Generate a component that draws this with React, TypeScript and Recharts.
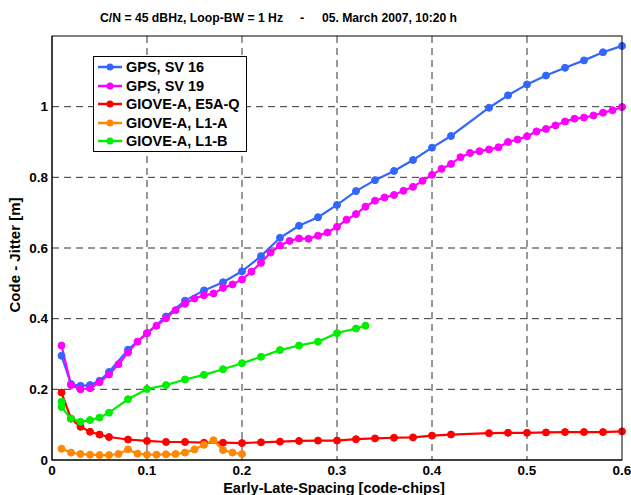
import React from 'react';
import { LineChart, Line, XAxis, YAxis, CartesianGrid, Legend } from 'recharts';

// x positions (code-chips) and jitter values [m]
const sv16X = [0.01, 0.02, 0.03, 0.04, 0.05, 0.06, 0.08, 0.1, 0.12, 0.14, 0.16, 0.18, 0.2, 0.22, 0.24, 0.26, 0.28, 0.3, 0.32, 0.34, 0.36, 0.38, 0.4, 0.42, 0.46, 0.48, 0.5, 0.52, 0.54, 0.56, 0.58, 0.6];
const sv16Y = [0.295, 0.215, 0.21, 0.212, 0.224, 0.249, 0.312, 0.359, 0.406, 0.451, 0.48, 0.503, 0.534, 0.577, 0.629, 0.663, 0.687, 0.722, 0.761, 0.792, 0.818, 0.849, 0.884, 0.917, 0.997, 1.032, 1.063, 1.088, 1.11, 1.131, 1.154, 1.172];

const sv19X = [0.01, 0.02, 0.03, 0.04, 0.05, 0.06, 0.07, 0.08, 0.09, 0.1, 0.11, 0.12, 0.13, 0.14, 0.15, 0.16, 0.17, 0.18, 0.19, 0.2, 0.21, 0.22, 0.23, 0.24, 0.25, 0.26, 0.27, 0.28, 0.29, 0.3, 0.31, 0.32, 0.33, 0.34, 0.35, 0.36, 0.37, 0.38, 0.39, 0.4, 0.41, 0.42, 0.43, 0.44, 0.45, 0.46, 0.47, 0.48, 0.49, 0.5, 0.51, 0.52, 0.53, 0.54, 0.55, 0.56, 0.57, 0.58, 0.59, 0.6];
const sv19Y = [0.324, 0.212, 0.2, 0.203, 0.22, 0.242, 0.271, 0.304, 0.335, 0.359, 0.38, 0.401, 0.424, 0.442, 0.457, 0.466, 0.471, 0.487, 0.497, 0.511, 0.533, 0.558, 0.587, 0.607, 0.62, 0.627, 0.626, 0.635, 0.644, 0.66, 0.68, 0.696, 0.717, 0.734, 0.743, 0.75, 0.762, 0.773, 0.79, 0.807, 0.824, 0.838, 0.857, 0.869, 0.874, 0.879, 0.885, 0.9, 0.907, 0.916, 0.93, 0.937, 0.947, 0.958, 0.966, 0.969, 0.975, 0.983, 0.99, 0.999];

const e5aX = [0.01, 0.02, 0.03, 0.04, 0.05, 0.06, 0.08, 0.1, 0.12, 0.14, 0.16, 0.18, 0.2, 0.22, 0.24, 0.26, 0.28, 0.3, 0.32, 0.34, 0.36, 0.38, 0.4, 0.42, 0.46, 0.48, 0.5, 0.52, 0.54, 0.56, 0.58, 0.6];
const e5aY = [0.191, 0.117, 0.094, 0.08, 0.072, 0.065, 0.058, 0.054, 0.051, 0.051, 0.049, 0.049, 0.048, 0.05, 0.052, 0.054, 0.055, 0.055, 0.059, 0.061, 0.063, 0.064, 0.069, 0.072, 0.076, 0.077, 0.077, 0.078, 0.079, 0.079, 0.079, 0.081];

const l1aX = [0.01, 0.02, 0.03, 0.04, 0.05, 0.06, 0.07, 0.08, 0.09, 0.1, 0.11, 0.12, 0.13, 0.14, 0.15, 0.16, 0.17, 0.18, 0.19, 0.2];
const l1aY = [0.032, 0.021, 0.017, 0.015, 0.014, 0.014, 0.017, 0.03, 0.018, 0.015, 0.015, 0.016, 0.017, 0.021, 0.03, 0.043, 0.056, 0.028, 0.021, 0.017];

const l1bX = [0.01, 0.01, 0.02, 0.03, 0.04, 0.05, 0.06, 0.08, 0.1, 0.12, 0.14, 0.16, 0.18, 0.2, 0.22, 0.24, 0.26, 0.28, 0.3, 0.32, 0.33];
const l1bY = [0.165, 0.15, 0.117, 0.108, 0.113, 0.12, 0.134, 0.172, 0.201, 0.212, 0.228, 0.241, 0.257, 0.274, 0.292, 0.311, 0.324, 0.335, 0.359, 0.372, 0.38];

const xTicks = [0, 0.1, 0.2, 0.3, 0.4, 0.5, 0.6];
const yTicks = [0, 0.2, 0.4, 0.6, 0.8, 1];

const toPoints = (xs: number[], ys: number[]) => xs.map((x, i) => ({ x, y: ys[i] }));

const series = [
  { name: 'GPS, SV 16', color: '#3366ff', data: toPoints(sv16X, sv16Y) },
  { name: 'GPS, SV 19', color: '#ff00ff', data: toPoints(sv19X, sv19Y) },
  { name: 'GIOVE-A, E5A-Q', color: '#ff0000', data: toPoints(e5aX, e5aY) },
  { name: 'GIOVE-A, L1-A', color: '#ff8800', data: toPoints(l1aX, l1aY) },
  { name: 'GIOVE-A, L1-B', color: '#00ee00', data: toPoints(l1bX, l1bY) },
];

const FONT = '"Liberation Sans", Arial, Helvetica, sans-serif';

function LegendBox() {
  return (
    <div
      style={{
        border: '1px solid #000',
        background: '#fff',
        padding: '1px 6px 0 3px',
        fontFamily: FONT,
        fontWeight: 'bold',
        fontSize: 14.5,
        color: '#000',
      }}
    >
      {series.map((s) => (
        <div key={s.name} style={{ height: 18.5, display: 'flex', alignItems: 'center' }}>
          <svg width={26} height={10} style={{ marginRight: 3 }}>
            <line x1={1} y1={5} x2={25} y2={5} stroke={s.color} strokeWidth={2.5} />
            <circle cx={13} cy={5} r={3.5} fill={s.color} />
          </svg>
          <span style={{ lineHeight: '18px', whiteSpace: 'nowrap' }}>{s.name}</span>
        </div>
      ))}
    </div>
  );
}

export default function App() {
  const W = 631;
  const H = 495;
  const plot = { left: 52, top: 36, right: 622, bottom: 460 };
  return (
    <div style={{ position: 'absolute', left: 0, top: 0, width: W, height: H, background: '#fff' }}>
      <LineChart
        width={W}
        height={H}
        margin={{ top: plot.top, right: W - plot.right, left: 8, bottom: 5 }}
      >
        <CartesianGrid
          stroke="#333"
          strokeDasharray="7 5"
          horizontalValues={[0.2, 0.4, 0.6, 0.8, 1]}
          verticalValues={[0.1, 0.2, 0.3, 0.4, 0.5]}
        />
        <XAxis
          dataKey="x"
          type="number"
          domain={[0, 0.6]}
          ticks={xTicks}
          allowDuplicatedCategory={false}
          height={30}
          tickSize={0}
          tickMargin={5}
          axisLine={{ stroke: '#000' }}
          tick={{ fill: '#000', fontFamily: FONT, fontWeight: 'bold', fontSize: 13.5 }}
        />
        <YAxis
          type="number"
          domain={[0, 1.2]}
          ticks={yTicks}
          width={44}
          tickSize={0}
          tickMargin={4}
          axisLine={{ stroke: '#000' }}
          tick={{ fill: '#000', fontFamily: FONT, fontWeight: 'bold', fontSize: 13.5 }}
        />
        <Legend
          layout="vertical"
          align="center"
          verticalAlign="middle"
          content={() => <LegendBox />}
          wrapperStyle={{ position: 'absolute', left: 93, top: 56, width: 'auto', height: 'auto' }}
        />
        {series.map((s) => (
          <Line
            key={s.name}
            data={s.data}
            dataKey="y"
            name={s.name}
            type="linear"
            stroke={s.color}
            strokeWidth={2.2}
            dot={{ r: 3.5, fill: s.color, stroke: s.color, strokeWidth: 1 }}
            isAnimationActive={false}
          />
        ))}
      </LineChart>
      <svg
        width={W}
        height={H}
        style={{ position: 'absolute', left: 0, top: 0, pointerEvents: 'none' }}
        fontFamily={FONT}
        fontWeight="bold"
      >
        <rect
          x={plot.left}
          y={plot.top}
          width={plot.right - plot.left}
          height={plot.bottom - plot.top}
          fill="none"
          stroke="#000"
          strokeWidth={1}
        />
        <text x={100} y={22} fontSize={12.5} textLength={183} lengthAdjust="spacingAndGlyphs">
          C/N = 45 dBHz, Loop-BW = 1 Hz
        </text>
        <text x={302} y={22} fontSize={12.5} textAnchor="middle">
          -
        </text>
        <text x={322} y={22} fontSize={12.5} textLength={135} lengthAdjust="spacingAndGlyphs">
          05. March 2007, 10:20 h
        </text>
        <text x={334} y={493} fontSize={14.5} textAnchor="middle">
          Early-Late-Spacing [code-chips]
        </text>
        <text x={20} y={255} fontSize={15} textAnchor="middle" transform="rotate(-90 20 255)">
          Code - Jitter [m]
        </text>
      </svg>
    </div>
  );
}
